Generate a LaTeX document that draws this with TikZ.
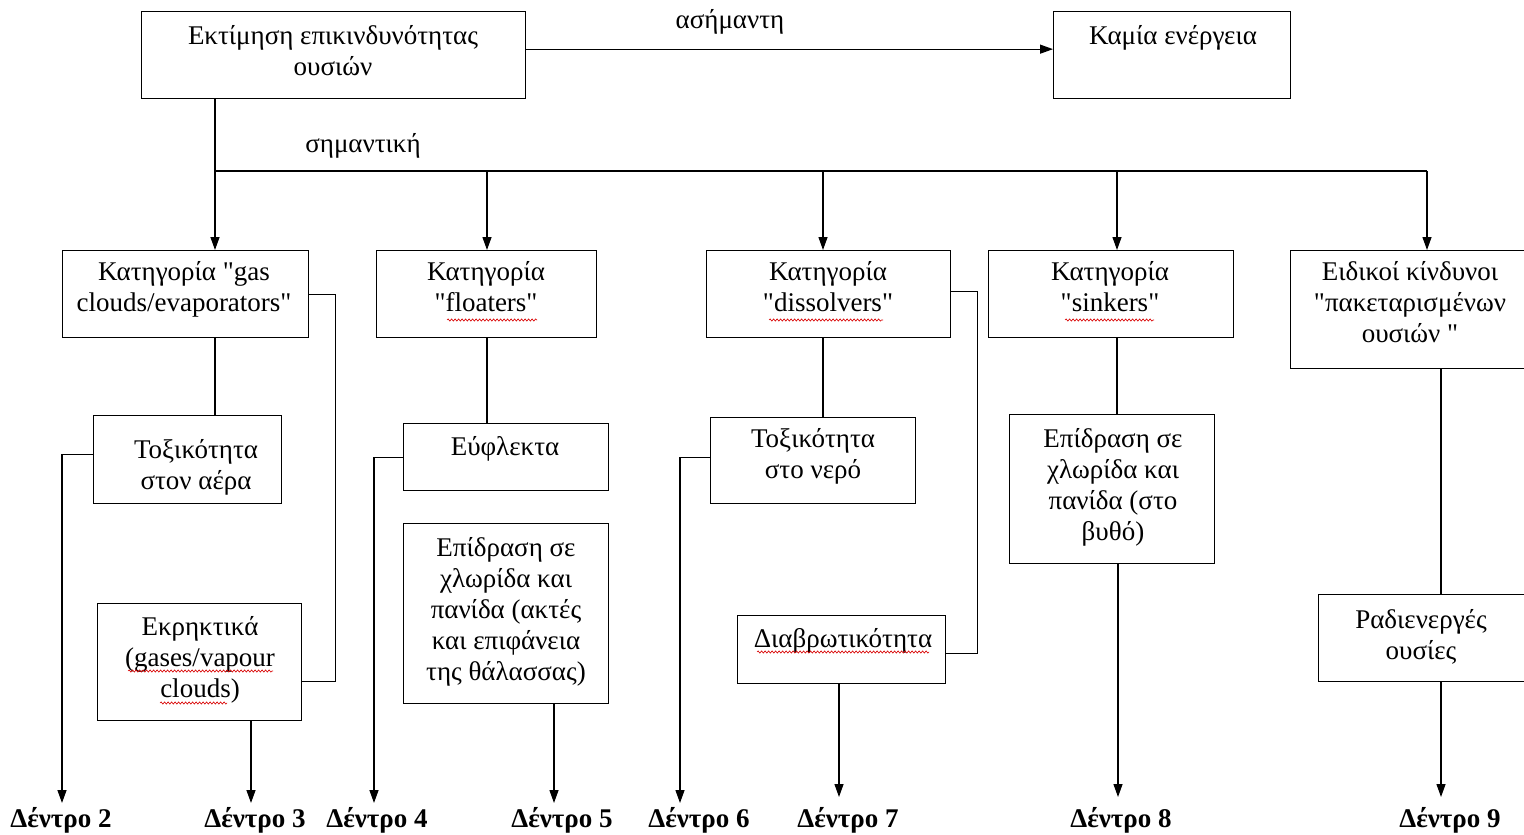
\documentclass[tikz,border=0pt]{standalone}
\usepackage{fontspec}
% family without TeX ligatures, so that " stays a straight quote
\newfontfamily\grserif{Liberation Serif}
\usetikzlibrary{arrows.meta,decorations.pathmorphing}

\begin{document}
\begin{tikzpicture}[x=1pt,y=-1pt,
  box/.style={draw, line width=1.3pt, inner sep=0pt, anchor=north west},
  txt/.style={font=\grserif\fontsize{27}{31}\selectfont, align=center, inner sep=0pt, anchor=base},
  tree/.style={font=\grserif\fontsize{27}{31}\selectfont\bfseries, inner sep=0pt, anchor=base},
  link/.style={line width=1.3pt},
  arr/.style={link, -{Triangle[width=9pt,length=13pt]}},
  spell/.style={red!85!black, line width=0.6pt, decorate,
    decoration={snake, amplitude=1.1pt, segment length=3.5pt}}]

\clip (0,0) rectangle (1524,835);
\fill[white] (0,0) rectangle (1524,835);

% ---- boxes ----
\node[box, minimum width=384pt, minimum height=87pt] (top)   at (141,11) {};
\node[box, minimum width=237pt, minimum height=87pt] (kamia) at (1053,11) {};

\node[box, minimum width=246pt, minimum height=87pt]  (catA) at (62,250) {};
\node[box, minimum width=220pt, minimum height=87pt]  (catB) at (376,250) {};
\node[box, minimum width=244pt, minimum height=87pt]  (catC) at (706,250) {};
\node[box, minimum width=245pt, minimum height=87pt]  (catD) at (988,250) {};
\node[box, minimum width=250pt, minimum height=118pt] (catE) at (1290,250) {};

\node[box, minimum width=188pt, minimum height=88pt]  (toxA) at (93,415) {};
\node[box, minimum width=204pt, minimum height=117pt] (expA) at (97,603) {};
\node[box, minimum width=205pt, minimum height=67pt]  (eufB) at (403,423) {};
\node[box, minimum width=205pt, minimum height=180pt] (effB) at (403,523) {};
\node[box, minimum width=205pt, minimum height=86pt]  (toxC) at (710,417) {};
\node[box, minimum width=208pt, minimum height=68pt]  (corC) at (737,615) {};
\node[box, minimum width=205pt, minimum height=149pt] (effD) at (1009,414) {};
\node[box, minimum width=215pt, minimum height=87pt]  (radE) at (1318,594) {};

% ---- texts (anchored at the baseline of their last line) ----
\node[txt] (topT)   at (333,75)   {Εκτίμηση επικινδυνότητας\\ουσιών};
\node[txt] (kamiaT) at (1173,44)  {Καμία ενέργεια};
\node[txt] (insig)  at (730,28)   {ασήμαντη};
\node[txt] (sig)    at (363,152)  {σημαντική};

\node[txt] (catAT) at (184,311) {Κατηγορία "gas\\clouds/evaporators"};
\node[txt] (catBT) at (486,311) {Κατηγορία\\"floaters"};
\node[txt] (catCT) at (828,311) {Κατηγορία\\"dissolvers"};
\node[txt] (catDT) at (1110,311) {Κατηγορία\\"sinkers"};
\node[txt] (catET) at (1410,342) {Ειδικοί κίνδυνοι\\"πακεταρισμένων\\ουσιών "};

\node[txt] (toxAT) at (196,489) {Τοξικότητα\\στον αέρα};
\node[txt] (expAT) at (200,697) {Εκρηκτικά\\(gases/vapour\\clouds)};
\node[txt] (eufBT) at (505,455) {Εύφλεκτα};
\node[txt] (effBT) at (506,680) {Επίδραση σε\\χλωρίδα και\\πανίδα (ακτές\\και επιφάνεια\\της θάλασσας)};
\node[txt] (toxCT) at (813,478) {Τοξικότητα\\στο νερό};
\node[txt] (corCT) at (843,647) {Διαβρωτικότητα};
\node[txt] (effDT) at (1113,540) {Επίδραση σε\\χλωρίδα και\\πανίδα (στο\\βυθό)};
\node[txt] (radET) at (1421,659) {Ραδιενεργές\\ουσίες};

% ---- tree labels ----
\node[tree] (t2) at (61,827)   {Δέντρο 2};
\node[tree] (t3) at (255,827)  {Δέντρο 3};
\node[tree] (t4) at (377,827)  {Δέντρο 4};
\node[tree] (t5) at (562,827)  {Δέντρο 5};
\node[tree] (t6) at (699,827)  {Δέντρο 6};
\node[tree] (t7) at (848,827)  {Δέντρο 7};
\node[tree] (t8) at (1121,827) {Δέντρο 8};
\node[tree] (t9) at (1450,827) {Δέντρο 9};

% arrow ends above the tree labels
\coordinate (e2) at (62,803);
\coordinate (e3) at (251,803);
\coordinate (e4) at (374,803);
\coordinate (e5) at (554,803);
\coordinate (e6) at (680,803);
\coordinate (e7) at (839,797);
\coordinate (e8) at (1118,797);
\coordinate (e9) at (1441,797);

% distribution bus
\coordinate (dA) at (215,171);
\coordinate (dB) at (487,171);
\coordinate (dC) at (823,171);
\coordinate (dD) at (1117,171);
\coordinate (dE) at (1427,171);

% ---- connectors ----
\draw[arr] ([yshift=6pt]top.east) -- ([yshift=6pt]kamia.west);
\draw[link] (dA |- top.south) -- (dA) -- (dE);
\draw[arr] (dA) -- (dA |- catA.north);
\draw[arr] (dB) -- (dB |- catB.north);
\draw[arr] (dC) -- (dC |- catC.north);
\draw[arr] (dD) -- (dD |- catD.north);
\draw[arr] (dE) -- (dE |- catE.north);

% gas clouds / evaporators
\draw[link] (dA |- catA.south) -- (dA |- toxA.north);
\draw[arr] ([yshift=5pt]toxA.west) -| (e2);
\draw[link] (catA.east) -- ++(26,0) |- ([yshift=-19pt]expA.east);
\draw[arr] (e3 |- expA.south) -- (e3);

% floaters
\draw[link] (dB |- catB.south) -- (dB |- eufB.north);
\draw[arr] (eufB.west) -| (e4);
\draw[arr] (e5 |- effB.south) -- (e5);

% dissolvers
\draw[link] (dC |- catC.south) -- (dC |- toxC.north);
\draw[arr] ([yshift=3pt]toxC.west) -| (e6);
\draw[link] ([yshift=3pt]catC.east) -- ++(26,0) |- ([yshift=-4pt]corC.east);
\draw[arr] (e7 |- corC.south) -- (e7);

% sinkers
\draw[link] (dD |- catD.south) -- (dD |- effD.north);
\draw[arr] (e8 |- effD.south) -- (e8);

% packaged substances
\draw[link] (e9 |- catE.south) -- (e9 |- radE.north);
\draw[arr] (e9 |- radE.south) -- (e9);

% ---- spelling marks under foreign words ----
\draw[spell] (447,320) -- (537,320);
\draw[spell] (769,320) -- (883,320);
\draw[spell] (1065,320) -- (1154,320);
\draw[spell] (128,671) -- (273,671);
\draw[spell] (160,703) -- (227,703);
\draw[spell] (757,652) -- (929,652);

\end{tikzpicture}
\end{document}
